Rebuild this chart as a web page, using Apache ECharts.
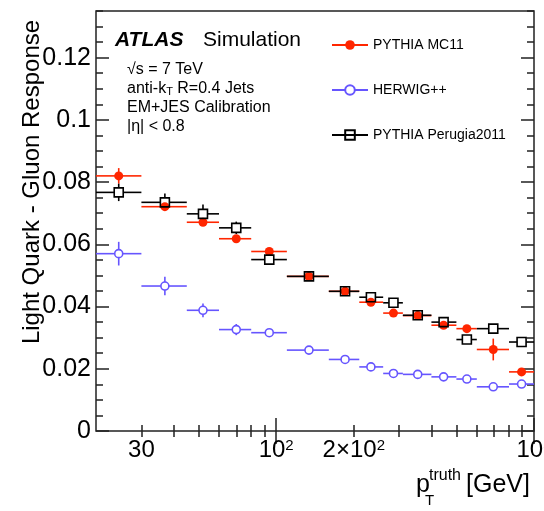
<!DOCTYPE html>
<html>
<head>
<meta charset="utf-8">
<script src="https://cdn.jsdelivr.net/npm/echarts@6/dist/echarts.min.js"></script>
<style>html,body{margin:0;padding:0;background:#fff}#c{width:544px;height:511px}</style>
</head>
<body>
<div id="c"></div>
<script>
// ---- data ----
const binLow  = [20, 30, 45, 60, 80, 110, 160, 210, 260, 310, 400, 500, 600, 800];
const binHigh = [30, 45, 60, 80, 110, 160, 210, 260, 310, 400, 500, 600, 800, 1000];
const ptCenter = [24.5, 37, 52, 70, 94, 134, 185, 233, 285, 354, 446, 549, 695, 895];

const pythiaMC11 = [0.082, 0.0721, 0.0671, 0.0618, 0.0577, 0.0497, 0.0449, 0.0414, 0.0379, 0.0371, 0.034, 0.0329, 0.0262, 0.019];
const pythiaMC11Err = [0.0025, 0.0008, 0.0012, 0.0008, 0.0008, 0.0006, 0.0006, 0.0006, 0.0006, 0.0006, 0.0008, 0.0008, 0.0035, 0.0012];

const herwig = [0.057, 0.0466, 0.0388, 0.0326, 0.0316, 0.026, 0.023, 0.0206, 0.0185, 0.0182, 0.0174, 0.0167, 0.0142, 0.0151];
const herwigErr = [0.0038, 0.003, 0.0022, 0.0018, 0.0008, 0.0006, 0.0006, 0.0006, 0.0006, 0.0006, 0.0006, 0.0006, 0.0006, 0.0006];

const perugia = [0.0767, 0.0735, 0.0698, 0.0653, 0.0551, 0.0497, 0.0449, 0.043, 0.0412, 0.0372, 0.035, 0.0294, 0.0329, 0.0286];
const perugiaErr = [0.0028, 0.0028, 0.003, 0.002, 0.0015, 0.0008, 0.0008, 0.001, 0.001, 0.001, 0.001, 0.001, 0.001, 0.0012];

const seriesNames = ['PYTHIA MC11', 'HERWIG++', 'PYTHIA Perugia2011'];

const xMinorTicks = [30, 40, 50, 60, 70, 80, 90, 200, 300, 400, 500, 600, 700, 800, 900];
const xMajorTicks = [100, 1000];
const xLabelValues = [30, 100, 200, 1000];
const yMajorTicks = [0, 0.02, 0.04, 0.06, 0.08, 0.1, 0.12];
const yMinorTicks = [0.005, 0.01, 0.015, 0.025, 0.03, 0.035, 0.045, 0.05, 0.055, 0.065, 0.07, 0.075,
  0.085, 0.09, 0.095, 0.105, 0.11, 0.115, 0.125, 0.13, 0.135];

// ---- styling ----
const FONT = '"Liberation Sans", Arial, Helvetica, sans-serif';
const RED = '#ff2600', BLUE = '#6655ff', BLACK = '#000000';
const AXC = '#222';

function rows(vals, errs) {
  return vals.map((v, i) => [ptCenter[i], v, binLow[i], binHigh[i], errs[i]]);
}

function errSeries(name, vals, errs, color, gap) {
  return {
    type: 'custom', name: name + ' err', xAxisIndex: 0, yAxisIndex: 0, clip: true,
    data: rows(vals, errs), silent: true,
    renderItem: function (params, api) {
      const x = api.value(0), y = api.value(1), lo = api.value(2), hi = api.value(3), e = api.value(4);
      const c = api.coord([x, y]);
      const pl = api.coord([lo, y]);
      const ph = api.coord([hi, y]);
      const pt = api.coord([x, y + e]);
      const pb = api.coord([x, y - e]);
      const st = { stroke: color, lineWidth: 1.6 };
      const ch = [];
      if (c[0] - gap > pl[0]) ch.push({ type: 'line', shape: { x1: pl[0], y1: c[1], x2: c[0] - gap, y2: c[1] }, style: st });
      if (ph[0] > c[0] + gap) ch.push({ type: 'line', shape: { x1: c[0] + gap, y1: c[1], x2: ph[0], y2: c[1] }, style: st });
      if (c[1] - gap > pt[1]) ch.push({ type: 'line', shape: { x1: c[0], y1: pt[1], x2: c[0], y2: c[1] - gap }, style: st });
      if (pb[1] > c[1] + gap) ch.push({ type: 'line', shape: { x1: c[0], y1: c[1] + gap, x2: c[0], y2: pb[1] }, style: st });
      return { type: 'group', children: ch };
    }
  };
}

function markerSeries(name, vals, symbol, size, fill, border) {
  return {
    type: 'scatter', name: name + ' pts', xAxisIndex: 0, yAxisIndex: 0,
    data: vals.map((v, i) => [ptCenter[i], v]),
    symbol: symbol, symbolSize: size,
    itemStyle: { color: fill, borderColor: border, borderWidth: border ? 1.6 : 0, opacity: 1 },
    emphasis: { disabled: true }, silent: true
  };
}

function legendSeries(name, symbol, itemStyle, color) {
  return {
    type: 'line', name: name, data: [], xAxisIndex: 0, yAxisIndex: 0,
    symbol: symbol, symbolSize: 9,
    lineStyle: { color: color, width: 1.6 },
    itemStyle: itemStyle
  };
}

function xAx(pos, ticks, len, opts) {
  return Object.assign({
    type: 'log', logBase: 10, min: 20, max: 1000, position: pos,
    axisLine: { show: false },
    axisTick: { show: true, inside: true, length: len, customValues: ticks, lineStyle: { color: AXC, width: 1.5 } },
    axisLabel: { show: false },
    splitLine: { show: false }, minorTick: { show: false }
  }, opts || {});
}
function yAx(pos, ticks, len, opts) {
  return Object.assign({
    type: 'value', min: 0, max: 0.135, position: pos,
    axisLine: { show: false },
    axisTick: { show: true, inside: true, length: len, customValues: ticks, lineStyle: { color: AXC, width: 1.5 } },
    axisLabel: { show: false },
    splitLine: { show: false }, minorTick: { show: false }
  }, opts || {});
}

const xLabelMap = { 30: '30', 100: '10{sup|2}', 200: '2×10{sup|2}', 1000: '10{sup|3}' };

const option = {
  backgroundColor: '#fff',
  animation: false,
  grid: { left: 96, right: 10, top: 11, bottom: 80, containLabel: false, outerBoundsMode: 'none',
    show: true, borderColor: AXC, borderWidth: 1.5, backgroundColor: 'transparent' },
  xAxis: [
    xAx('bottom', xMinorTicks, 6, {
      axisLabel: {
        show: true, customValues: xLabelValues, margin: 7,
        fontFamily: FONT, fontSize: 24, color: '#000',
        formatter: function (v) { return xLabelMap[Math.round(v)] || ''; },
        rich: { sup: { fontFamily: FONT, fontSize: 15, color: '#000', verticalAlign: 'top', padding: [0, 0, 10, 0] } }
      }
    }),
    xAx('bottom', xMajorTicks, 13),
    xAx('top', xMinorTicks, 6),
    xAx('top', xMajorTicks, 13)
  ],
  yAxis: [
    yAx('left', yMajorTicks, 13, {
      axisLabel: { show: true, customValues: yMajorTicks, margin: 5, fontFamily: FONT, fontSize: 25, color: '#000' }
    }),
    yAx('left', yMinorTicks, 7),
    yAx('right', yMajorTicks, 13),
    yAx('right', yMinorTicks, 7)
  ],
  legend: {
    data: seriesNames, orient: 'vertical', left: 331, top: 38, padding: 0,
    itemWidth: 36, itemHeight: 12, itemGap: 31,
    textStyle: { fontFamily: FONT, fontSize: 14, color: '#000' },
    selectedMode: false
  },
  graphic: [
    { type: 'text', x: 115, y: 40, style: { text: 'ATLAS', font: 'italic bold 21px ' + FONT, fill: '#000', textVerticalAlign: 'middle' } },
    { type: 'text', x: 203, y: 40, style: { text: 'Simulation', font: '21px ' + FONT, fill: '#000', textVerticalAlign: 'middle' } },
    { type: 'text', x: 127, y: 70, style: { text: '√s = 7 TeV', font: '16px ' + FONT, fill: '#000', textVerticalAlign: 'middle' } },
    { type: 'text', x: 127, y: 89, style: {
        text: 'anti-k{sub|T} R=0.4 Jets', font: '16px ' + FONT, fill: '#000', textVerticalAlign: 'middle',
        rich: { sub: { font: '11px ' + FONT, fill: '#000', verticalAlign: 'bottom', padding: [6, 0, 0, 0] } } } },
    { type: 'text', x: 127, y: 108, style: { text: 'EM+JES Calibration', font: '16px ' + FONT, fill: '#000', textVerticalAlign: 'middle' } },
    { type: 'text', x: 127, y: 127, style: { text: '|η| < 0.8', font: '16px ' + FONT, fill: '#000', textVerticalAlign: 'middle' } },
    { type: 'text', x: 32, y: 182, rotation: Math.PI / 2, style: {
        text: 'Light Quark - Gluon Response', font: '24px ' + FONT, fill: '#000', textAlign: 'center', textVerticalAlign: 'middle' } },
    { type: 'text', x: 416, y: 485, style: { text: 'p', font: '25px ' + FONT, fill: '#000', textVerticalAlign: 'middle' } },
    { type: 'text', x: 429, y: 476, style: { text: 'truth', font: '16px ' + FONT, fill: '#000', textVerticalAlign: 'middle' } },
    { type: 'text', x: 425, y: 501, style: { text: 'T', font: '15px ' + FONT, fill: '#000', textVerticalAlign: 'middle' } },
    { type: 'text', x: 466, y: 485, style: { text: '[GeV]', font: '25px ' + FONT, fill: '#000', textVerticalAlign: 'middle' } }
  ],
  series: [
    legendSeries(seriesNames[0], 'circle', { color: RED }, RED),
    legendSeries(seriesNames[1], 'emptyCircle', { color: BLUE, borderWidth: 1.6 }, BLUE),
    legendSeries(seriesNames[2], 'rect', { color: 'rgba(0,0,0,0)', borderColor: BLACK, borderWidth: 1.6 }, BLACK),
    errSeries(seriesNames[0], pythiaMC11, pythiaMC11Err, RED, 0),
    markerSeries(seriesNames[0], pythiaMC11, 'circle', 9, RED, null),
    errSeries(seriesNames[1], herwig, herwigErr, BLUE, 4),
    markerSeries(seriesNames[1], herwig, 'circle', 8, '#fff', BLUE),
    errSeries(seriesNames[2], perugia, perugiaErr, BLACK, 4.5),
    markerSeries(seriesNames[2], perugia, 'rect', 9, 'rgba(0,0,0,0)', BLACK)
  ]
};

const chart = echarts.init(document.getElementById('c'), null, { renderer: 'canvas' });
chart.setOption(option);
</script>
</body>
</html>
